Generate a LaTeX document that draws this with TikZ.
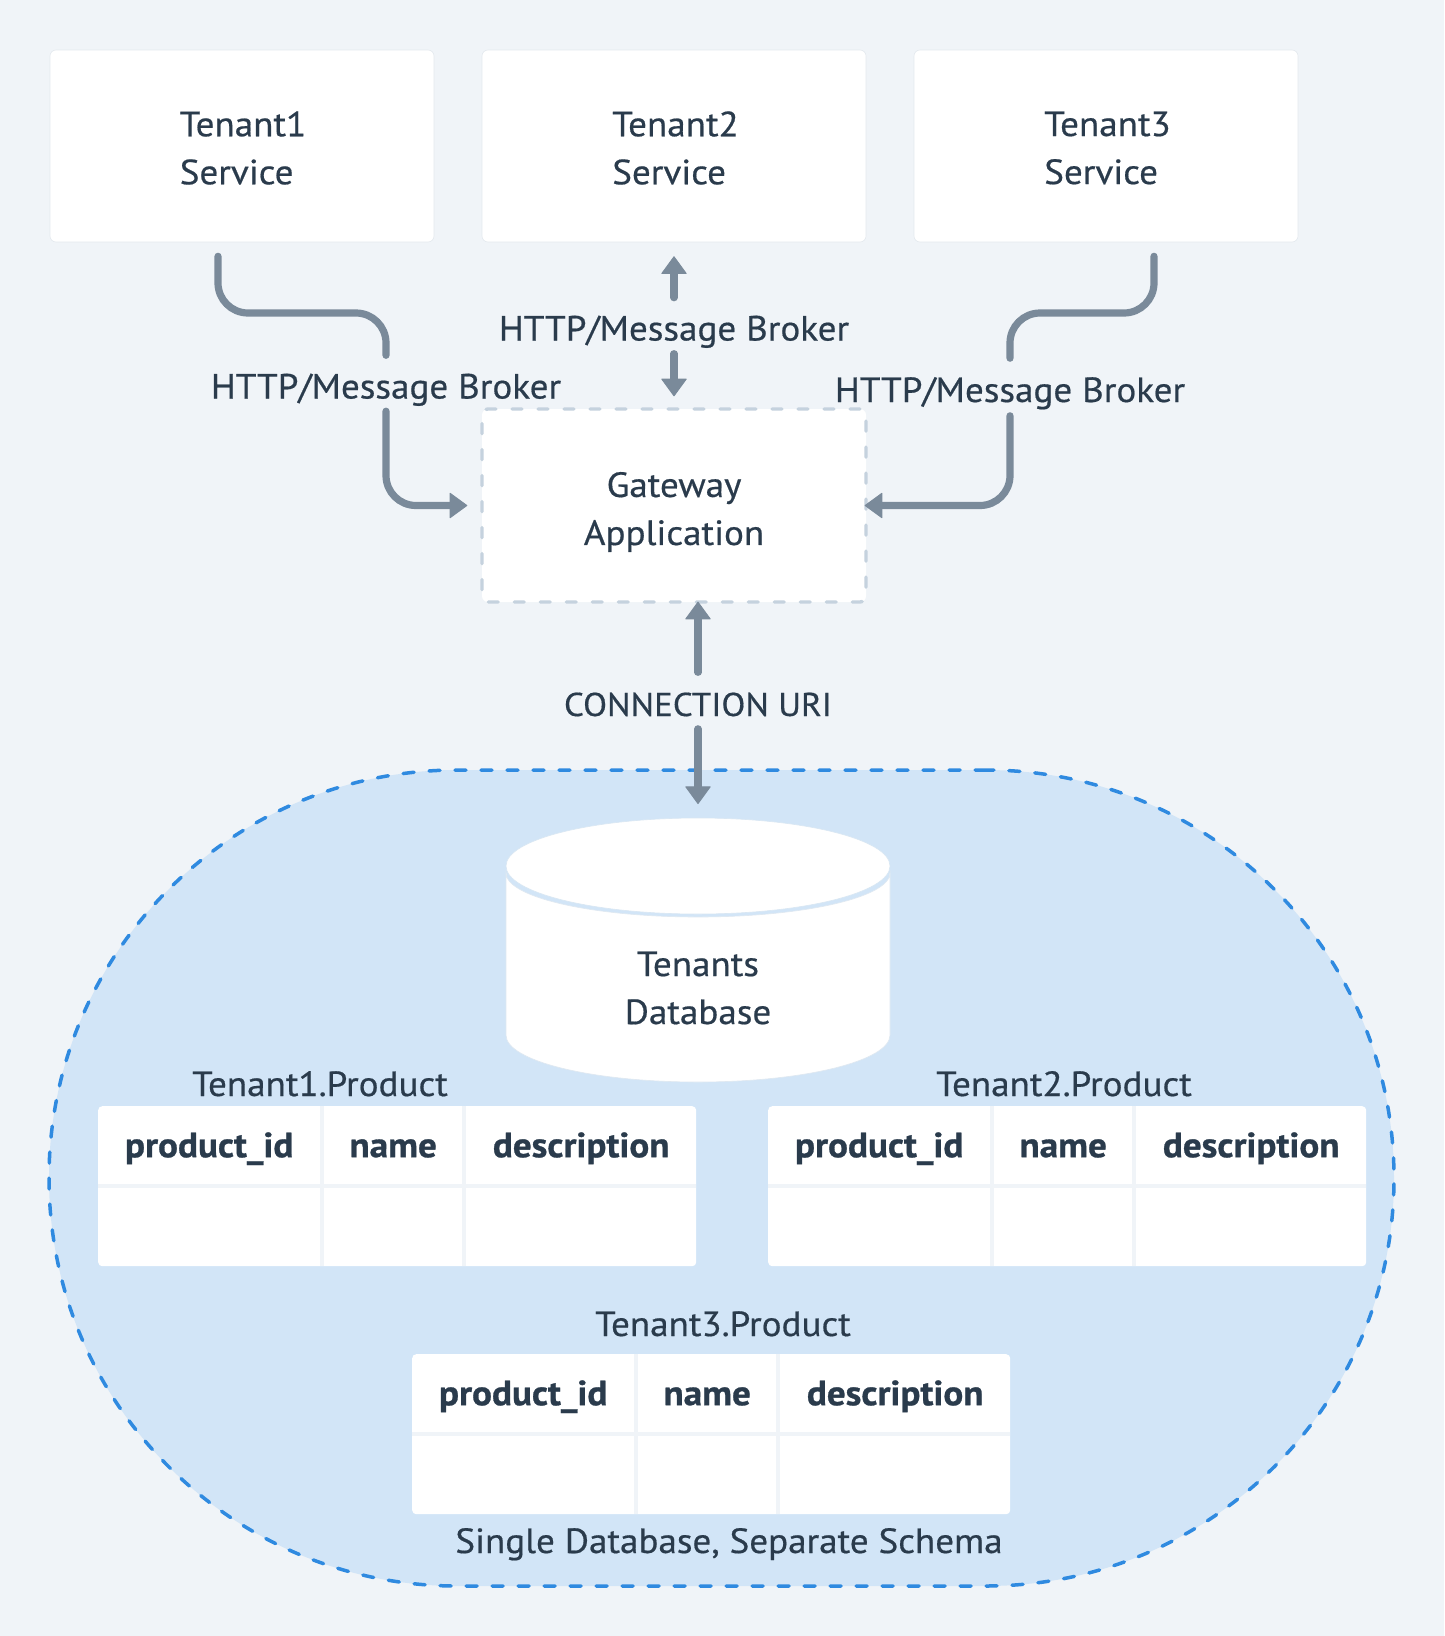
\documentclass[tikz,border=0pt]{standalone}
\usepackage{fontspec}
\setmainfont[FakeStretch=1.06,UprightFeatures={FakeBold=0.5},BoldFeatures={FakeBold=0.8}]{PT Sans}
\usetikzlibrary{arrows.meta,shapes.geometric}
\definecolor{bgc}{HTML}{F0F4F8}
\definecolor{ink}{HTML}{2A3B4C}
\definecolor{conn}{HTML}{7A8A9A}
\definecolor{dashg}{HTML}{C5D2DE}
\definecolor{blobf}{HTML}{D2E5F7}
\definecolor{blobd}{HTML}{2F8AE0}
\definecolor{edgec}{HTML}{E4E9EE}
\tikzset{
  every node/.style={font=\fontsize{35}{48}\selectfont,text=ink},
  svcbox/.style={draw=edgec,line width=0.6pt,fill=white,rounded corners=6pt,minimum width=384pt,minimum height=192pt,inner sep=0pt},
  gatebox/.style={draw=dashg,fill=white,line width=3.4pt,line cap=round,dash pattern=on 10pt off 16pt,rounded corners=6pt,minimum width=384pt,minimum height=193pt,inner sep=0pt},
  blob/.style={draw=blobd,fill=blobf,line width=3.5pt,line cap=round,dash pattern=on 11pt off 15pt,rounded corners=408pt,minimum width=1345pt,minimum height=816pt,inner sep=0pt},
  link/.style={draw=conn,line width=7.2pt,line cap=round,rounded corners=30pt},
  tipped/.style={-{Triangle[width=26pt,length=18pt,line width=1pt,round]}},
  lbl/.style={inner sep=0pt,text height=28pt,text depth=4pt},
  twoline/.style={inner sep=0pt},
  tablebg/.style={fill=white,rounded corners=4pt,inner sep=0pt,anchor=north west,minimum width=598pt,minimum height=160pt},
  cell/.style={inner sep=0pt,anchor=north west,minimum height=78pt,text height=26pt,text depth=2pt,font=\fontsize{35}{40}\selectfont\bfseries,text=ink},
  sepline/.style={draw=bgc,line width=4pt},
}
\newcommand{\prodtable}[3]{%
  \node[tablebg] (#1) at (#2,#3) {};
  \node[cell,minimum width=222pt] (#1a) at (#2,#3) {product\_id};
  \node[cell,minimum width=138pt] (#1b) at (#2+226,#3) {name};
  \node[cell,minimum width=230pt] (#1c) at (#2+368,#3) {description};
  \draw[sepline] (#2,#3+80) -- (#2+598,#3+80);
  \draw[sepline] (#2+224,#3) -- (#2+224,#3+160);
  \draw[sepline] (#2+366,#3) -- (#2+366,#3+160);
}
\begin{document}
\begin{tikzpicture}[x=1pt,y=-1pt]
\useasboundingbox (0,0) rectangle (1444,1636);
\fill[bgc] (0,0) rectangle (1444,1636);

\node[blob] (schema) at (721.5,1178) {};

\node[svcbox] (t1) at (242,146) {};
\node[svcbox] (t2) at (674,146) {};
\node[svcbox] (t3) at (1106,146) {};
\node[gatebox] (gw) at (674,505.5) {};
\node[twoline,align=left] (t1txt) at (243,148) {Tenant1\\Service};
\node[twoline,align=left] (t2txt) at (675.5,148) {Tenant2\\Service};
\node[twoline,align=left] (t3txt) at (1107.5,148) {Tenant3\\Service};
\node[twoline,align=center] (gwtxt) at (674,512) {Gateway\\Application};

\node[lbl] (l1) at (386,386.5) {HTTP/Message Broker};
\node[lbl] (l2) at (674,328.5) {HTTP/Message Broker};
\node[lbl] (l3) at (1010,390) {HTTP/Message Broker};
\node[lbl,font=\fontsize{33}{48}\selectfont] (l4) at (698,704) {CONNECTION URI};

% left connector
\draw[link] ([xshift=-24pt,yshift=-14pt]t1.south) -- (218,313) -- (386,313) -- ([yshift=15pt]l1.north);
\draw[link,tipped] ([yshift=-8.5pt]l1.south) -- (386,505.5) -- ([xshift=-13pt]gw.west);
% middle connector
\draw[link,tipped] ([yshift=14.6pt]l2.north) -- ([yshift=-14pt]t2.south);
\draw[link,tipped] ([yshift=-9pt]l2.south) -- ([yshift=11pt]gw.north);
% right connector
\draw[link] ([xshift=48pt,yshift=-14pt]t3.south) -- (1154,313) -- (1010,313) -- ([yshift=15.6pt]l3.north);
\draw[link,tipped] ([yshift=-9.6pt]l3.south) -- (1010,505.5) -- ([xshift=-3pt]gw.east);
% database connector
\draw[link,tipped] ([yshift=15.5pt]l4.north) -- ([xshift=24pt,yshift=2pt]gw.south);
\draw[link,tipped] ([yshift=-8.6pt]l4.south) -- (698,804);

% database
\draw[edgec!70!blobf,line width=0.6pt,fill=white] (506,873) arc[start angle=180,end angle=360,x radius=192,y radius=-44] -- (890,1035)
  arc[start angle=0,end angle=-180,x radius=192,y radius=-47] -- cycle;
\node[draw=edgec!40!blobf,line width=0.6pt,fill=white,ellipse,inner sep=0pt,minimum width=384pt,minimum height=96pt] (dbtop) at (698,866) {};
\node[twoline,align=center] (db) at (698,988) {Tenants\\Database};

% tables
\prodtable{ta}{98}{1106}
\prodtable{tb}{768}{1106}
\prodtable{tc}{412}{1354}
\node[lbl] (ta0) at (320,1084) {Tenant1.Product};
\node[lbl] (tb0) at (1064,1084) {Tenant2.Product};
\node[lbl] (tc0) at (723,1324) {Tenant3.Product};
\node[lbl] (cap) at (729,1541) {Single Database, Separate Schema};
\end{tikzpicture}
\end{document}
